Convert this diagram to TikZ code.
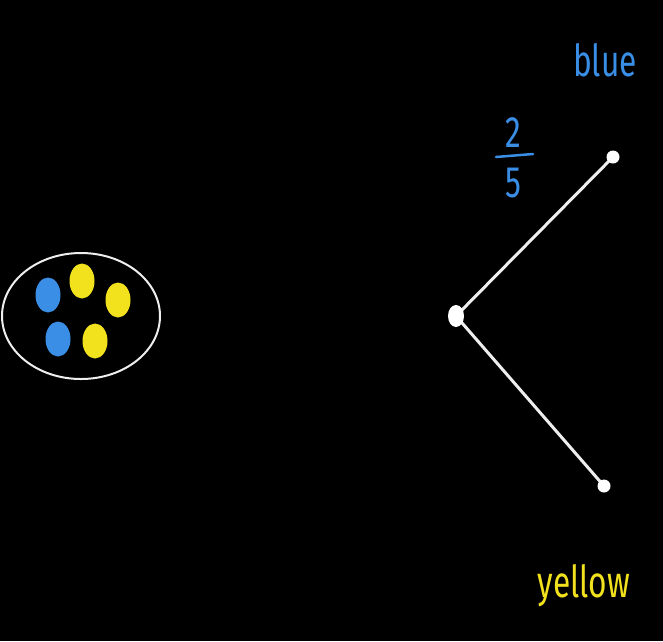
\documentclass[tikz,border=0pt]{standalone}
\usepackage{fontspec}
\usetikzlibrary{shapes.geometric,backgrounds}
\setmainfont{Fira Sans}
\definecolor{cblue}{HTML}{3A8EE6}
\definecolor{cyellow}{HTML}{F2E21E}
\definecolor{cline}{HTML}{EEEEEE}
\begin{document}
\begin{tikzpicture}[x=1pt,y=-1pt,
  leaf/.style={circle,fill=white,inner sep=0pt,minimum size=13pt},
  branch/.style={draw=cline,line width=3pt,line cap=round},
  lbl/.style={font=\fontsize{44}{44}\selectfont,xscale=0.72,inner sep=0pt}]
\useasboundingbox (0,0) rectangle (663,641);
% bag
\draw[cline,line width=2pt] (81,316) ellipse [x radius=79, y radius=63];
\fill[cblue] (48,295) ellipse [x radius=12.5, y radius=17.5];
\fill[cblue] (58,339) ellipse [x radius=12.5, y radius=17.5];
\fill[cyellow] (82,281) ellipse [x radius=12.5, y radius=17.5];
\fill[cyellow] (118,300) ellipse [x radius=12.5, y radius=17.5];
\fill[cyellow] (95,341) ellipse [x radius=12.5, y radius=17.5];
% tree
\node[ellipse,fill=white,inner sep=0pt,minimum width=16pt,minimum height=22pt] (root) at (456,316) {};
\node[leaf] (top) at (613,157) {};
\node[leaf] (bot) at (604,486) {};
\begin{scope}[on background layer]
\fill[black] (0,0) rectangle (663,641);
\draw[branch] (root.center) -- (top.center);
\draw[branch] (root.center) -- (bot.center);
\end{scope}
% labels
\node[lbl,text=cblue] (blue) at (605,60) {blue};
\node[lbl,text=cyellow] (yellow) at (584,586) {yellow};
\node[lbl,text=cblue] (num) at (513,133) {2};
\node[lbl,text=cblue] (den) at (513,183) {5};
\coordinate (fa) at (496,157);
\coordinate (fb) at (533,154);
\draw[cblue,line width=2.5pt,line cap=round] (fa) -- (fb);
\end{tikzpicture}
\end{document}
